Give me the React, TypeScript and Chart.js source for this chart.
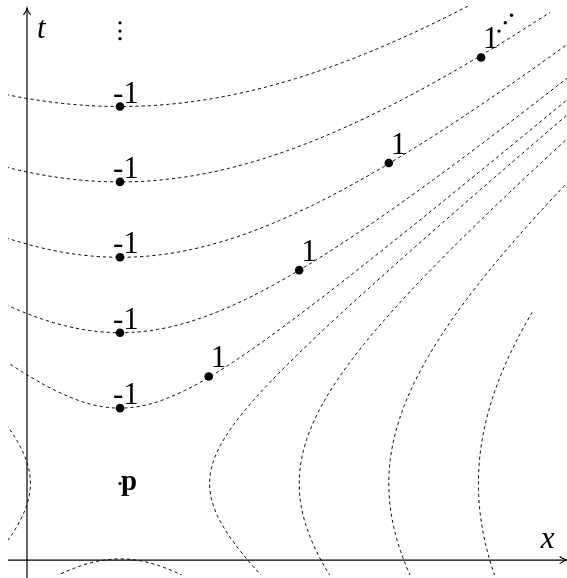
import React, { useEffect, useRef } from "react";
import { Chart, registerables } from "chart.js";
Chart.register(...registerables);

// Hyperbola levels around the event p (p sits at data origin)
const timelikeLevels = [1, 2, 3, 4, 5];
const timelikeUStart = [-1.4, -1.4, -1.4, -1.4, -1.4];
const timelikeUEnd = [5.1, 5.1, 5.1, 4.8, 4.2];
const lowerTimelikeLevels = [1];
const spacelikeLevels = [1, 2, 3, 4];
const spacelikeVStart = [-1.3, -1.3, -1.3, -1.3];
const spacelikeVEnd = [5.5, 5.5, 5.5, 2.27];
const leftSpacelikeLevels = [1];

// Marked events
const minusDotX = [0, 0, 0, 0, 0];
const minusDotT = [1, 2, 3, 4, 5];
const plusDotX = [0.99, 2.0, 3.0, 4.03];
const plusDotT = [1.42, 2.83, 4.25, 5.65];
const minusLabel = "-1";
const plusLabel = "1";
const vdotsX = [0, 0, 0];
const vdotsT = [6.11, 6.0, 5.9];
const ddotsX = [4.23, 4.3, 4.37];
const ddotsT = [6.0, 6.11, 6.21];

// Axes (in the same coordinates)
const yAxisX = -1.038;
const xAxisT = -1.015;
const xAxisFrom = -1.25;
const xAxisTo = 4.985;
const yAxisFrom = -1.26;
const yAxisTo = 6.306;

const SERIF = "'Liberation Serif', 'DejaVu Serif', 'Times New Roman', serif";

function sampleRange(a: number, b: number, step: number) {
  const out: number[] = [];
  for (let s = a; s < b; s += step) out.push(s);
  out.push(b);
  return out;
}

export default function App() {
  const ref = useRef<HTMLCanvasElement | null>(null);
  useEffect(() => {
    const canvas = ref.current;
    if (!canvas) return;
    const curveClip = { left: -8, top: -6, right: 0, bottom: -3 };
    const curveStyle = {
      showLine: true,
      pointRadius: 0,
      borderColor: "#000",
      borderWidth: 1,
      borderDash: [3.2, 3],
      tension: 0,
      clip: curveClip,
    };
    const datasets: any[] = [];
    // axes
    datasets.push({
      data: [{ x: xAxisFrom, y: xAxisT }, { x: xAxisTo, y: xAxisT }],
      showLine: true, pointRadius: 0, borderColor: "#000", borderWidth: 1.2, clip: false,
    });
    datasets.push({
      data: [{ x: yAxisX, y: yAxisFrom }, { x: yAxisX, y: yAxisTo }],
      showLine: true, pointRadius: 0, borderColor: "#000", borderWidth: 1.2, clip: false,
    });
    timelikeLevels.forEach((k, i) => {
      const us = sampleRange(timelikeUStart[i], timelikeUEnd[i], 0.02);
      datasets.push({ ...curveStyle, data: us.map((u) => ({ x: u, y: Math.sqrt(k * k + u * u) })) });
    });
    lowerTimelikeLevels.forEach((k) => {
      const us = sampleRange(-1.2, 1.2, 0.02);
      datasets.push({ ...curveStyle, data: us.map((u) => ({ x: u, y: -Math.sqrt(k * k + u * u) })) });
    });
    spacelikeLevels.forEach((k, i) => {
      const vs = sampleRange(spacelikeVStart[i], spacelikeVEnd[i], 0.02);
      datasets.push({ ...curveStyle, data: vs.map((v) => ({ x: Math.sqrt(k * k + v * v), y: v })) });
    });
    leftSpacelikeLevels.forEach((k) => {
      const vs = sampleRange(-1.2, 1.2, 0.02);
      datasets.push({ ...curveStyle, data: vs.map((v) => ({ x: -Math.sqrt(k * k + v * v), y: v })) });
    });
    // dots
    datasets.push({
      data: minusDotX.map((x, i) => ({ x, y: minusDotT[i] })),
      pointRadius: 4.3, backgroundColor: "#000", borderWidth: 0, showLine: false, clip: false,
    });
    datasets.push({
      data: plusDotX.map((x, i) => ({ x, y: plusDotT[i] })),
      pointRadius: 4.3, backgroundColor: "#000", borderWidth: 0, showLine: false, clip: false,
    });
    datasets.push({
      data: [{ x: 0, y: 0 }],
      pointRadius: 1.6, backgroundColor: "#000", borderWidth: 0, showLine: false, clip: false,
    });
    datasets.push({
      data: vdotsX.map((x, i) => ({ x, y: vdotsT[i] })),
      pointRadius: 1.6, backgroundColor: "#000", borderWidth: 0, showLine: false, clip: false,
    });
    datasets.push({
      data: ddotsX.map((x, i) => ({ x, y: ddotsT[i] })),
      pointRadius: 1.7, backgroundColor: "#000", borderWidth: 0, showLine: false, clip: false,
    });

    const labelPlugin = {
      id: "labels",
      afterDatasetsDraw(chart: any) {
        const { ctx } = chart;
        const sx = chart.scales.x;
        const sy = chart.scales.y;
        const px = (v: number) => sx.getPixelForValue(v);
        const py = (v: number) => sy.getPixelForValue(v);
        ctx.save();
        ctx.fillStyle = "#000";
        ctx.textBaseline = "alphabetic";
        ctx.textAlign = "left";
        ctx.font = `31px ${SERIF}`;
        minusDotX.forEach((x, i) => {
          ctx.fillText(minusLabel, px(x) - 7, py(minusDotT[i]) - 4);
        });
        plusDotX.forEach((x, i) => {
          ctx.fillText(plusLabel, px(x) + 2, py(plusDotT[i]) - 9);
        });
        ctx.font = `bold 29px ${SERIF}`;
        ctx.fillText("p", px(0) + 1, py(0) + 6);
        ctx.font = `italic 31px ${SERIF}`;
        ctx.fillText("t", px(yAxisX) + 10, py(yAxisTo) + 30);
        ctx.fillText("x", px(xAxisTo) - 26, py(xAxisT) - 12);
        // arrow heads
        ctx.strokeStyle = "#000";
        ctx.lineWidth = 1.1;
        const arrow = (tx: number, ty: number, dx: number, dy: number) => {
          const L = 7, W = 3.6;
          const nx = -dy, ny = dx;
          const bx = tx - dx * L, by = ty - dy * L;
          ctx.beginPath();
          ctx.moveTo(bx + nx * W, by + ny * W);
          ctx.quadraticCurveTo(tx - dx * L * 0.4 + nx * 0.6, ty - dy * L * 0.4 + ny * 0.6, tx, ty);
          ctx.quadraticCurveTo(tx - dx * L * 0.4 - nx * 0.6, ty - dy * L * 0.4 - ny * 0.6, bx - nx * W, by - ny * W);
          ctx.stroke();
        };
        arrow(px(xAxisTo), py(xAxisT), 1, 0);
        arrow(px(yAxisX), py(yAxisTo), 0, -1);
        ctx.restore();
      },
    };

    const chart = new Chart(canvas, {
      type: "scatter",
      data: { datasets },
      options: {
        animation: false,
        responsive: false,
        events: [],
        layout: { padding: 0, autoPadding: false },
        plugins: { legend: { display: false }, tooltip: { enabled: false } },
        scales: {
          x: { type: "linear", display: false, min: -1.3393, max: 4.9888 },
          y: { type: "linear", display: false, min: -1.2533, max: 6.4125 },
        },
      },
      plugins: [labelPlugin],
    } as any);
    return () => chart.destroy();
  }, []);
  return (
    <div style={{ position: "fixed", left: 0, top: 0, width: 567, height: 578, background: "#fff" }}>
      <canvas ref={ref} width={567} height={578} style={{ display: "block" }} />
    </div>
  );
}
